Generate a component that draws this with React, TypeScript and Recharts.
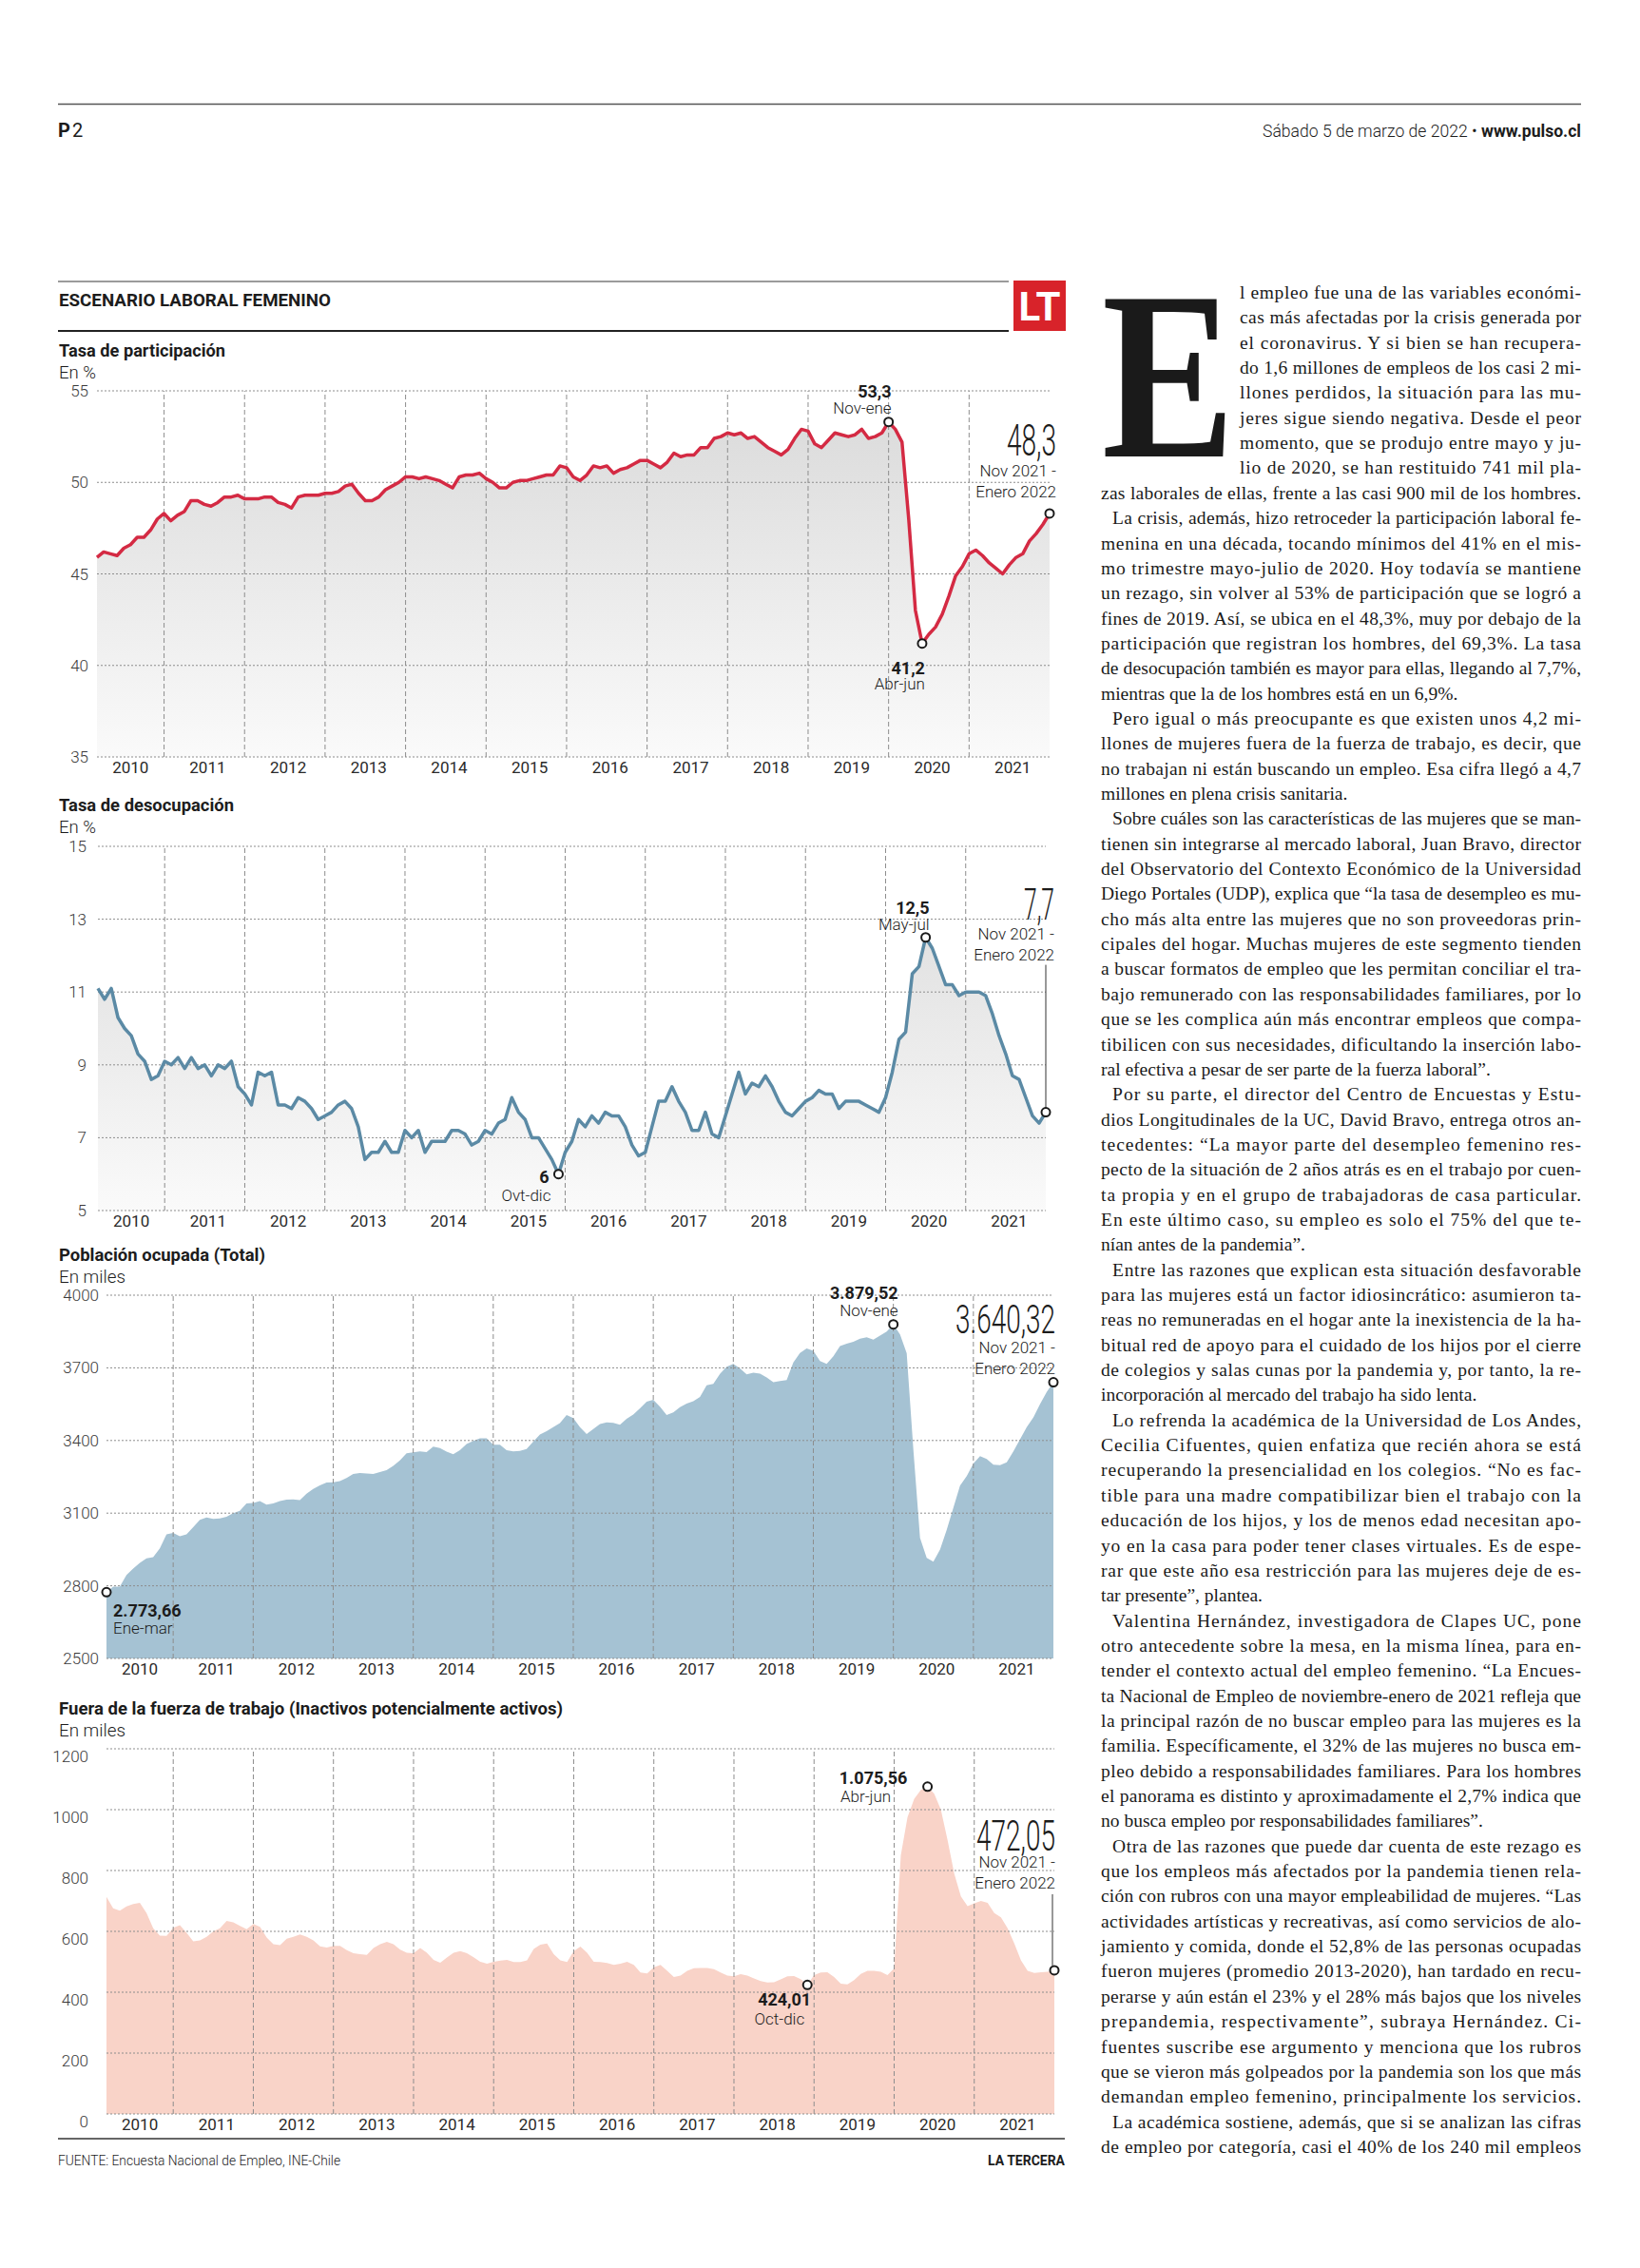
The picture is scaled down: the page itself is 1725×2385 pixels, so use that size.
import * as React from "react";
import { ComposedChart, Area, Line, XAxis, YAxis, ReferenceLine, ReferenceDot } from "recharts";

// Tipografías disponibles sin red: sans para el gráfico, serif para el texto.
const SANS = "Roboto, 'Noto Sans', 'DejaVu Sans', sans-serif";
const SERIF = "'Liberation Serif', 'DejaVu Serif', serif";

const ROJO = "#d42a43";
const AZUL = "#5b8aa5";
const AZUL_AREA = "#a5c2d3";
const SALMON = "#f9d3c8";
const GRIS_GRILLA = "#8d8d8d";

const ANIOS = ["2010", "2011", "2012", "2013", "2014", "2015", "2016", "2017", "2018", "2019", "2020", "2021"];

// Trimestres móviles: 0 = ene-mar 2010 ... 142 = nov 2021-ene 2022
const tasaParticipacion = [
  45.9, 46.2, 46.1, 46.0, 46.4, 46.6, 47.0, 47.0, 47.4, 48.0,
  48.3, 47.9, 48.2, 48.4, 49.0, 49.0, 48.8, 48.7, 48.9, 49.2,
  49.2, 49.3, 49.1, 49.1, 49.1, 49.2, 49.2, 48.9, 48.8, 48.6,
  49.2, 49.3, 49.3, 49.3, 49.4, 49.4, 49.5, 49.8, 49.9, 49.4,
  49.0, 49.0, 49.2, 49.6, 49.8, 50.0, 50.3, 50.3, 50.2, 50.3,
  50.2, 50.1, 49.9, 49.7, 50.3, 50.4, 50.4, 50.5, 50.2, 50.0,
  49.7, 49.7, 50.0, 50.1, 50.1, 50.2, 50.3, 50.4, 50.4, 50.9,
  50.8, 50.3, 50.1, 50.4, 50.9, 50.8, 50.9, 50.5, 50.7, 50.8,
  51.0, 51.2, 51.2, 51.0, 50.8, 51.1, 51.6, 51.4, 51.5, 51.5,
  51.9, 51.9, 52.4, 52.5, 52.7, 52.6, 52.7, 52.4, 52.5, 52.2,
  51.9, 51.7, 51.5, 51.8, 52.4, 52.9, 52.8, 52.1, 51.9, 52.3,
  52.7, 52.6, 52.5, 52.6, 52.9, 52.4, 52.5, 52.7, 53.3, 52.9,
  52.2, 48.0, 43.0, 41.2, 41.7, 42.1, 42.8, 43.8, 44.9, 45.4,
  46.1, 46.3, 46.0, 45.6, 45.3, 45.0, 45.5, 45.9, 46.1, 46.8,
  47.2, 47.7, 48.3,
];

const tasaDesocupacion = [
  11.1, 10.8, 11.1, 10.3, 10.0, 9.8, 9.3, 9.1, 8.6, 8.7,
  9.1, 9.0, 9.2, 8.9, 9.2, 8.9, 9.0, 8.7, 9.0, 8.9,
  9.1, 8.4, 8.2, 7.9, 8.8, 8.7, 8.8, 7.9, 7.9, 7.8,
  8.1, 8.0, 7.8, 7.5, 7.6, 7.7, 7.9, 8.0, 7.8, 7.3,
  6.4, 6.6, 6.6, 6.9, 6.6, 6.6, 7.2, 7.0, 7.2, 6.6,
  6.9, 6.9, 6.9, 7.2, 7.2, 7.1, 6.8, 6.9, 7.2, 7.1,
  7.4, 7.5, 8.1, 7.7, 7.5, 7.0, 7.0, 6.7, 6.4, 6.0,
  6.6, 6.9, 7.5, 7.3, 7.6, 7.4, 7.7, 7.6, 7.6, 7.3,
  6.8, 6.5, 6.6, 7.3, 8.0, 8.0, 8.4, 8.0, 7.7, 7.2,
  7.2, 7.7, 7.1, 7.0, 7.6, 8.2, 8.8, 8.2, 8.5, 8.4,
  8.7, 8.4, 8.0, 7.7, 7.6, 7.8, 8.0, 8.1, 8.3, 8.2,
  8.2, 7.8, 8.0, 8.0, 8.0, 7.9, 7.8, 7.7, 8.1, 8.8,
  9.7, 9.9, 11.5, 11.7, 12.5, 12.2, 11.7, 11.2, 11.2, 10.9,
  11.0, 11.0, 11.0, 10.9, 10.4, 9.8, 9.3, 8.7, 8.6, 8.1,
  7.6, 7.4, 7.7,
];

// En miles
const poblacionOcupada = [
  2773.66, 2796, 2796, 2845, 2871, 2895, 2913, 2918, 2955, 3012,
  3018, 3005, 3012, 3042, 3072, 3082, 3076, 3078, 3085, 3100,
  3110, 3140, 3142, 3150, 3135, 3140, 3150, 3156, 3157, 3154,
  3180, 3200, 3215, 3226, 3227, 3232, 3245, 3262, 3266, 3264,
  3262, 3270, 3277, 3295, 3318, 3347, 3351, 3355, 3352, 3375,
  3369, 3354, 3343, 3360, 3385, 3398, 3409, 3409, 3383, 3383,
  3360, 3355, 3357, 3365, 3395, 3425, 3438, 3455, 3472, 3505,
  3492, 3455, 3427, 3447, 3468, 3475, 3473, 3465, 3490, 3507,
  3533, 3560, 3568, 3540, 3505, 3516, 3538, 3552, 3562, 3580,
  3628, 3634, 3675, 3705, 3716, 3698, 3673, 3680, 3676, 3660,
  3641, 3646, 3650, 3722, 3761, 3780, 3770, 3728, 3716, 3748,
  3790, 3800, 3808, 3820, 3826, 3816, 3833, 3850, 3879.52, 3838,
  3760, 3362, 2998, 2915, 2900, 2950, 3031, 3122, 3214, 3253,
  3305, 3335, 3324, 3300, 3298, 3310, 3355, 3405, 3455, 3495,
  3550, 3600, 3640.32,
];

// En miles
const fueraFuerzaTrabajo = [
  713, 676, 668, 682, 690, 694, 660, 610, 586, 585,
  612, 620, 595, 567, 570, 582, 600, 610, 634, 630,
  618, 607, 624, 615, 580, 558, 555, 576, 582, 590,
  582, 570, 551, 547, 552, 552, 538, 528, 525, 523,
  545, 558, 566, 558, 540, 530, 528, 545, 530, 506,
  497, 514, 530, 535, 528, 515, 500, 494, 500, 504,
  506, 499, 499, 505, 542, 556, 560, 525, 505, 499,
  535, 550, 530, 500, 499, 496, 490, 494, 500, 490,
  465, 462, 482, 490, 470, 450, 455, 470, 479, 480,
  480, 476, 465, 455, 452, 459, 455, 445, 437, 432,
  433, 442, 452, 453, 443, 424.01, 456, 465, 466, 450,
  428, 426, 440, 460, 470, 470, 467, 456, 478, 850,
  975, 1035, 1065, 1075.56, 1052, 1000, 900, 790, 715, 683,
  692, 700, 694, 660, 646, 610, 560, 505, 470, 463,
  466, 467, 472.05,
];

const TICKS_PARTICIPACION = [35, 40, 45, 50, 55];
const TICKS_DESOCUPACION = [5, 7, 9, 11, 13, 15];
const TICKS_OCUPADA = [2500, 2800, 3100, 3400, 3700, 4000];
const TICKS_FUERA = [0, 200, 400, 600, 800, 1000, 1200];

const ULTIMO = tasaParticipacion.length - 1;
// la línea vertical cae en el trimestre centrado en diciembre de cada año
const FIN_ANIO = ANIOS.slice(0, -1).map((_, k) => 10 + 12 * k);
const CENTRO_ANIO = ANIOS.map((_, k) => (k === 0 ? 5 : 12 * k + 4.5));

const PARRAFOS = [
  [
    "l empleo fue una de las variables económi-",
    "cas más afectadas por la crisis generada por",
    "el coronavirus. Y si bien se han recupera-",
    "do 1,6 millones de empleos de los casi 2 mi-",
    "llones perdidos, la situación para las mu-",
    "jeres sigue siendo negativa. Desde el peor",
    "momento, que se produjo entre mayo y ju-",
    "lio de 2020, se han restituido 741 mil pla-",
    "zas laborales de ellas, frente a las casi 900 mil de los hombres.",
  ],
  [
    "La crisis, además, hizo retroceder la participación laboral fe-",
    "menina en una década, tocando mínimos del 41% en el mis-",
    "mo trimestre mayo-julio de 2020. Hoy todavía se mantiene",
    "un rezago, sin volver al 53% de participación que se logró a",
    "fines de 2019. Así, se ubica en el 48,3%, muy por debajo de la",
    "participación que registran los hombres, del 69,3%. La tasa",
    "de desocupación también es mayor para ellas, llegando al 7,7%,",
    "mientras que la de los hombres está en un 6,9%.",
  ],
  [
    "Pero igual o más preocupante es que existen unos 4,2 mi-",
    "llones de mujeres fuera de la fuerza de trabajo, es decir, que",
    "no trabajan ni están buscando un empleo. Esa cifra llegó a 4,7",
    "millones en plena crisis sanitaria.",
  ],
  [
    "Sobre cuáles son las características de las mujeres que se man-",
    "tienen sin integrarse al mercado laboral, Juan Bravo, director",
    "del Observatorio del Contexto Económico de la Universidad",
    "Diego Portales (UDP), explica que “la tasa de desempleo es mu-",
    "cho más alta entre las mujeres que no son proveedoras prin-",
    "cipales del hogar. Muchas mujeres de este segmento tienden",
    "a buscar formatos de empleo que les permitan conciliar el tra-",
    "bajo remunerado con las responsabilidades familiares, por lo",
    "que se les complica aún más encontrar empleos que compa-",
    "tibilicen con sus necesidades, dificultando la inserción labo-",
    "ral efectiva a pesar de ser parte de la fuerza laboral”.",
  ],
  [
    "Por su parte, el director del Centro de Encuestas y Estu-",
    "dios Longitudinales de la UC, David Bravo, entrega otros an-",
    "tecedentes: “La mayor parte del desempleo femenino res-",
    "pecto de la situación de 2 años atrás es en el trabajo por cuen-",
    "ta propia y en el grupo de trabajadoras de casa particular.",
    "En este último caso, su empleo es solo el 75% del que te-",
    "nían antes de la pandemia”.",
  ],
  [
    "Entre las razones que explican esta situación desfavorable",
    "para las mujeres está un factor idiosincrático: asumieron ta-",
    "reas no remuneradas en el hogar ante la inexistencia de la ha-",
    "bitual red de apoyo para el cuidado de los hijos por el cierre",
    "de colegios y salas cunas por la pandemia y, por tanto, la re-",
    "incorporación al mercado del trabajo ha sido lenta.",
  ],
  [
    "Lo refrenda la académica de la Universidad de Los Andes,",
    "Cecilia Cifuentes, quien enfatiza que recién ahora se está",
    "recuperando la presencialidad en los colegios. “No es fac-",
    "tible para una madre compatibilizar bien el trabajo con la",
    "educación de los hijos, y los de menos edad necesitan apo-",
    "yo en la casa para poder tener clases virtuales. Es de espe-",
    "rar que este año esa restricción para las mujeres deje de es-",
    "tar presente”, plantea.",
  ],
  [
    "Valentina Hernández, investigadora de Clapes UC, pone",
    "otro antecedente sobre la mesa, en la misma línea, para en-",
    "tender el contexto actual del empleo femenino. “La Encues-",
    "ta Nacional de Empleo de noviembre-enero de 2021 refleja que",
    "la principal razón de no buscar empleo para las mujeres es la",
    "familia. Específicamente, el 32% de las mujeres no busca em-",
    "pleo debido a responsabilidades familiares. Para los hombres",
    "el panorama es distinto y aproximadamente el 2,7% indica que",
    "no busca empleo por responsabilidades familiares”.",
  ],
  [
    "Otra de las razones que puede dar cuenta de este rezago es",
    "que los empleos más afectados por la pandemia tienen rela-",
    "ción con rubros con una mayor empleabilidad de mujeres. “Las",
    "actividades artísticas y recreativas, así como servicios de alo-",
    "jamiento y comida, donde el 52,8% de las personas ocupadas",
    "fueron mujeres (promedio 2013-2020), han tardado en recu-",
    "perarse y aún están el 23% y el 28% más bajos que los niveles",
    "prepandemia, respectivamente”, subraya Hernández. Ci-",
    "fuentes suscribe ese argumento y menciona que los rubros",
    "que se vieron más golpeados por la pandemia son los que más",
    "demandan empleo femenino, principalmente los servicios.",
  ],
  [
    "La académica sostiene, además, que si se analizan las cifras",
    "de empleo por categoría, casi el 40% de los 240 mil empleos",
  ],
];
// párrafos cuya última línea llena la columna
const PARRAFOS_LLENOS = [0, 8, 9];

function Txt({
  x,
  y,
  t,
  size = 17,
  peso = 300,
  anchor = "start",
  ancho,
  color = "#1c1c1c",
  familia = SANS,
}: {
  x: number;
  y: number;
  t: React.ReactNode;
  size?: number;
  peso?: number;
  anchor?: "start" | "middle" | "end";
  ancho?: number;
  color?: string;
  familia?: string;
}) {
  return (
    <text
      x={x}
      y={y}
      fontSize={size}
      fontWeight={peso}
      textAnchor={anchor}
      fill={color}
      fontFamily={familia}
      textLength={ancho}
      lengthAdjust={ancho ? "spacingAndGlyphs" : undefined}
    >
      {t}
    </text>
  );
}

function Marca({ cx, cy }: { cx: number; cy: number }) {
  return <circle cx={cx} cy={cy} r={4.5} fill="#fff" stroke="#1a1a1a" strokeWidth={2} />;
}

function TickY({ x, y, payload, desplaz = 0 }: any) {
  return (
    <text x={x} y={y + 6 + desplaz} textAnchor="end" fontSize={17} fontWeight={300} fill="#3a3a3a" fontFamily={SANS}>
      {payload.value}
    </text>
  );
}

function TickAnio({ x, y, payload }: any) {
  const k = CENTRO_ANIO.indexOf(payload.value);
  return (
    <text x={x} y={y + 11} textAnchor="middle" fontSize={17} fontWeight={400} fill="#2a2a2a" fontFamily={SANS}>
      {ANIOS[k]}
    </text>
  );
}

type Nota = { i: number; dibujo: (cx: number, cy: number) => React.ReactNode };

function PanelSerie({
  id,
  valores,
  yTicks,
  izq,
  der,
  arriba,
  abajo,
  margenTick,
  desplazTick = 0,
  relleno,
  linea,
  notas,
}: {
  id: string;
  valores: number[];
  yTicks: number[];
  izq: number;
  der: number;
  arriba: number;
  abajo: number;
  margenTick: number;
  desplazTick?: number;
  relleno: string | [string, string];
  linea?: string;
  notas: Nota[];
}) {
  const X0 = 40;
  const MT = 20;
  const MR = 60;
  const HX = 34;
  const alto = abajo - arriba;
  const datos = valores.map((v, i) => ({ i, v }));
  const degradado = Array.isArray(relleno);
  return (
    <div style={{ position: "absolute", left: X0, top: arriba - MT }}>
      <ComposedChart
        width={der - X0 + MR}
        height={alto + MT + HX}
        data={datos}
        margin={{ top: MT, right: MR, bottom: 0, left: 0 }}
      >
        {degradado && (
          <defs>
            <linearGradient id={id} gradientUnits="userSpaceOnUse" x1="0" y1={MT} x2="0" y2={MT + alto}>
              <stop offset="0%" stopColor={relleno[0]} />
              <stop offset="100%" stopColor={relleno[1]} />
            </linearGradient>
          </defs>
        )}
        <XAxis
          type="number"
          dataKey="i"
          domain={[0, ULTIMO]}
          ticks={CENTRO_ANIO}
          interval={0}
          axisLine={false}
          tickLine={false}
          tickMargin={0}
          height={HX}
          tick={<TickAnio />}
        />
        <YAxis
          type="number"
          domain={[yTicks[0], yTicks[yTicks.length - 1]]}
          ticks={yTicks}
          interval={0}
          axisLine={false}
          tickLine={false}
          width={izq - X0}
          tickMargin={margenTick}
          tick={<TickY desplaz={desplazTick} />}
        />
        <Area
          type="linear"
          dataKey="v"
          stroke="none"
          fill={degradado ? `url(#${id})` : (relleno as string)}
          fillOpacity={1}
          baseValue="dataMin"
          activeDot={false}
          isAnimationActive={false}
        />
        {yTicks.map((t) => (
          <ReferenceLine key={"h" + t} y={t} stroke={GRIS_GRILLA} strokeDasharray="2 2" strokeWidth={1} />
        ))}
        {FIN_ANIO.map((b) => (
          <ReferenceLine key={"v" + b} x={b} stroke={GRIS_GRILLA} strokeDasharray="5 3" strokeWidth={1} />
        ))}
        {linea && (
          <Line
            type="linear"
            dataKey="v"
            stroke={linea}
            strokeWidth={3.5}
            strokeLinejoin="round"
            dot={false}
            activeDot={false}
            isAnimationActive={false}
          />
        )}
        {notas.map((n) => (
          <ReferenceDot
            key={"n" + n.i}
            x={n.i}
            y={valores[n.i]}
            r={4.5}
            shape={(p: any) => <g>{n.dibujo(p.cx, p.cy)}</g>}
          />
        ))}
      </ComposedChart>
    </div>
  );
}

function Ultimo({ cx, cy, valor, ancho, dy, size = 46 }: { cx: number; cy: number; valor: string; ancho: number; dy: number[]; size?: number }) {
  return (
    <>
      <Txt x={cx} y={cy + dy[0]} t={valor} size={size} peso={300} anchor="end" ancho={ancho} />
      <Txt x={cx} y={cy + dy[1]} t="Nov 2021 -" anchor="end" />
      <Txt x={cx} y={cy + dy[2]} t="Enero 2022" anchor="end" />
    </>
  );
}

function GraficoParticipacion() {
  return (
    <PanelSerie
      id="gradPart"
      valores={tasaParticipacion}
      yTicks={TICKS_PARTICIPACION}
      izq={102}
      der={1104}
      arriba={411}
      abajo={796}
      margenTick={3}
      relleno={["#d9d9d9", "#fafafa"]}
      linea={ROJO}
      notas={[
        {
          i: 118,
          dibujo: (cx, cy) => (
            <>
              <Txt x={cx + 3} y={cy - 26} t="53,3" size={18} peso={700} anchor="end" />
              <Txt x={cx + 3} y={cy - 8.5} t="Nov-ene" anchor="end" />
              <Marca cx={cx} cy={cy} />
            </>
          ),
        },
        {
          i: 123,
          dibujo: (cx, cy) => (
            <>
              <Txt x={cx + 3} y={cy + 32} t="41,2" size={18} peso={700} anchor="end" />
              <Txt x={cx + 3} y={cy + 48} t="Abr-jun" anchor="end" />
              <Marca cx={cx} cy={cy} />
            </>
          ),
        },
        {
          i: ULTIMO,
          dibujo: (cx, cy) => (
            <>
              <Ultimo cx={cx + 7} cy={cy} valor="48,3" ancho={52} dy={[-61, -39, -17]} />
              <Marca cx={cx} cy={cy} />
            </>
          ),
        },
      ]}
    />
  );
}

function GraficoDesocupacion() {
  return (
    <PanelSerie
      id="gradDesoc"
      valores={tasaDesocupacion}
      yTicks={TICKS_DESOCUPACION}
      izq={103}
      der={1100}
      arriba={890}
      abajo={1273}
      margenTick={6}
      relleno={["#dadada", "#fafafa"]}
      linea={AZUL}
      notas={[
        {
          i: 124,
          dibujo: (cx, cy) => (
            <>
              <Txt x={cx + 4} y={cy - 25} t="12,5" size={18} peso={700} anchor="end" />
              <Txt x={cx + 4} y={cy - 7.5} t="May-jul" anchor="end" />
              <Marca cx={cx} cy={cy} />
            </>
          ),
        },
        {
          i: 69,
          dibujo: (cx, cy) => (
            <>
              <Txt x={cx - 10} y={cy + 9} t="6" size={18} peso={700} anchor="end" />
              <Txt x={cx - 8} y={cy + 28} t="Ovt-dic" anchor="end" />
              <Marca cx={cx} cy={cy} />
            </>
          ),
        },
        {
          i: ULTIMO,
          dibujo: (cx, cy) => (
            <>
              <Ultimo cx={cx + 9} cy={cy} valor="7,7" ancho={32} dy={[-203, -182, -160]} />
              <line x1={cx} x2={cx} y1={cy - 155} y2={cy - 5} stroke="#333" strokeWidth={1} />
              <Marca cx={cx} cy={cy} />
            </>
          ),
        },
      ]}
    />
  );
}

function GraficoOcupada() {
  return (
    <PanelSerie
      id="areaOcup"
      valores={poblacionOcupada}
      yTicks={TICKS_OCUPADA}
      izq={112}
      der={1108}
      arriba={1362}
      abajo={1744}
      margenTick={2}
      relleno={AZUL_AREA}
      notas={[
        {
          i: 0,
          dibujo: (cx, cy) => (
            <>
              <Txt x={cx + 7} y={cy + 26} t="2.773,66" size={18} peso={700} />
              <Txt x={cx + 7} y={cy + 44} t="Ene-mar" />
              <Marca cx={cx} cy={cy} />
            </>
          ),
        },
        {
          i: 118,
          dibujo: (cx, cy) => (
            <>
              <Txt x={cx + 5} y={cy - 26.5} t="3.879,52" size={18} peso={700} anchor="end" />
              <Txt x={cx + 5} y={cy - 8.5} t="Nov-ene" anchor="end" />
              <Marca cx={cx} cy={cy} />
            </>
          ),
        },
        {
          i: ULTIMO,
          dibujo: (cx, cy) => (
            <>
              <Ultimo cx={cx + 2} cy={cy} valor="3.640,32" ancho={105} size={42} dy={[-52, -31, -9]} />
              <Marca cx={cx} cy={cy} />
            </>
          ),
        },
      ]}
    />
  );
}

function GraficoFuera() {
  return (
    <PanelSerie
      id="areaFuera"
      valores={fueraFuerzaTrabajo}
      yTicks={TICKS_FUERA}
      izq={112}
      der={1109}
      arriba={1839}
      abajo={2223}
      margenTick={13}
      desplazTick={8}
      relleno={SALMON}
      notas={[
        {
          i: 123,
          dibujo: (cx, cy) => (
            <>
              <Txt x={cx - 57} y={cy - 2.5} t="1.075,56" size={18} peso={700} anchor="middle" />
              <Txt x={cx - 65} y={cy + 16} t="Abr-jun" anchor="middle" />
              <Marca cx={cx} cy={cy} />
            </>
          ),
        },
        {
          i: 105,
          dibujo: (cx, cy) => (
            <>
              <Txt x={cx + 4} y={cy + 22} t="424,01" size={18} peso={700} anchor="end" />
              <Txt x={cx - 3} y={cy + 42} t="Oct-dic" anchor="end" />
              <Marca cx={cx} cy={cy} />
            </>
          ),
        },
        {
          i: ULTIMO,
          dibujo: (cx, cy) => (
            <>
              <Ultimo cx={cx + 1} cy={cy} valor="472,05" ancho={83} size={45} dy={[-126, -108, -86]} />
              <line x1={cx - 2} x2={cx - 2} y1={cy - 80} y2={cy - 5} stroke="#333" strokeWidth={1} />
              <Marca cx={cx} cy={cy} />
            </>
          ),
        },
      ]}
    />
  );
}

function Columna() {
  const lineas: React.ReactNode[] = [];
  let k = 0;
  PARRAFOS.forEach((parrafo, p) => {
    parrafo.forEach((txt, j) => {
      const junto = k < 8; // líneas al lado de la capitular
      const sangria = j === 0 && p > 0 ? 12 : 0;
      const x = (junto ? 1304 : 1158) + sangria;
      const corta = j === parrafo.length - 1 && !PARRAFOS_LLENOS.includes(p);
      lineas.push(
        <text
          key={k}
          x={x}
          y={314 + k * 26.35}
          fontFamily={SERIF}
          fontSize={19.5}
          fill="#1a1a1a"
          textLength={corta ? undefined : 1663 - x}
          lengthAdjust="spacing"
        >
          {txt}
        </text>
      );
      k++;
    });
  });
  return <g>{lineas}</g>;
}

function Pagina() {
  return (
    <svg width={1725} height={2385} style={{ position: "absolute", left: 0, top: 0 }}>
      {/* cabecera de página */}
      <line x1={61} x2={1663} y1={109.5} y2={109.5} stroke="#555" strokeWidth={1.5} />
      <Txt x={61} y={144} t="P" size={20} peso={700} />
      <Txt x={76} y={144} t="2" size={20} peso={400} />
      <text x={1663} y={144} fontSize={19} fontFamily={SANS} textAnchor="end" fill="#1c1c1c" textLength={335} lengthAdjust="spacingAndGlyphs">
        <tspan fontWeight={300}>Sábado 5 de marzo de 2022 • </tspan>
        <tspan fontWeight={700}>www.pulso.cl</tspan>
      </text>

      {/* encabezado de la infografía */}
      <line x1={61} x2={1061} y1={296} y2={296} stroke="#7a7a7a" strokeWidth={1.5} />
      <line x1={61} x2={1061} y1={348} y2={348} stroke="#222" strokeWidth={2} />
      <rect x={1066} y={295} width={55} height={53} fill="#d8232a" />
      <Txt x={1093.5} y={337} t="LT" size={42} peso={700} anchor="middle" ancho={44} color="#fff" />
      <Txt x={62} y={322} t="ESCENARIO LABORAL FEMENINO" size={19} peso={700} ancho={286} />

      <Txt x={62} y={375} t="Tasa de participación" size={19} peso={700} ancho={175} />
      <Txt x={62} y={398} t="En %" size={18} ancho={39} />
      <Txt x={62} y={853} t="Tasa de desocupación" size={19} peso={700} ancho={184} />
      <Txt x={62} y={876} t="En %" size={18} ancho={39} />
      <Txt x={62} y={1326} t="Población ocupada (Total)" size={19} peso={700} ancho={217} />
      <Txt x={62} y={1349} t="En miles" size={18} ancho={70} />
      <Txt x={62} y={1803} t="Fuera de la fuerza de trabajo (Inactivos potencialmente activos)" size={19} peso={700} ancho={530} />
      <Txt x={62} y={1826} t="En miles" size={18} ancho={70} />

      {/* pie */}
      <line x1={61} x2={1120} y1={2249} y2={2249} stroke="#333" strokeWidth={1.5} />
      <Txt x={61} y={2277} t="FUENTE: Encuesta Nacional de Empleo, INE-Chile" size={15} ancho={297} />
      <Txt x={1120} y={2277} t="LA TERCERA" size={15} peso={700} anchor="end" ancho={81} />

      {/* texto */}
      <text x={1159} y={480} fontFamily={SERIF} fontWeight={700} fontSize={252} fill="#1a1a1a" textLength={140} lengthAdjust="spacingAndGlyphs">
        E
      </text>
      <Columna />
    </svg>
  );
}

export default function App() {
  return (
    <div style={{ position: "absolute", left: 0, top: 0, width: 1725, height: 2385, background: "#fff", overflow: "hidden" }}>
      <style>{"html,body{margin:0;padding:0;background:#fff}"}</style>
      <Pagina />
      <GraficoParticipacion />
      <GraficoDesocupacion />
      <GraficoOcupada />
      <GraficoFuera />
    </div>
  );
}
